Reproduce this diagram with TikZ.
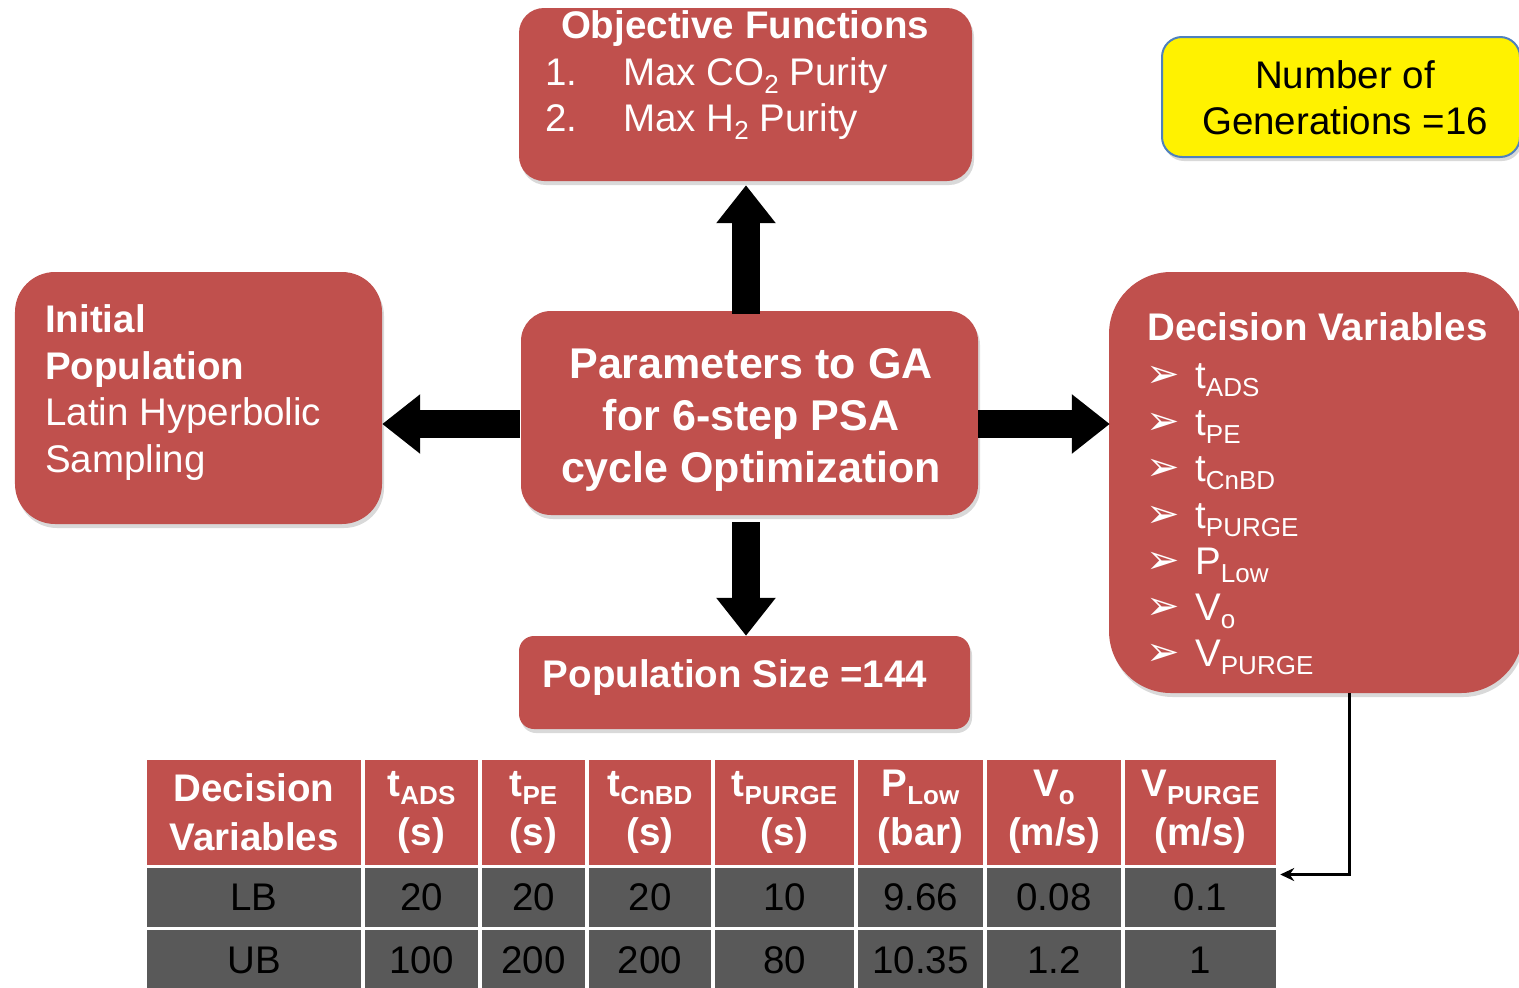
\documentclass[tikz,border=0pt]{standalone}
\usepackage{fontspec}
\setmainfont{Liberation Sans}
\newfontfamily\symfont{DejaVu Sans}
\usetikzlibrary{arrows.meta,shadows,calc}
\definecolor{boxred}{RGB}{192,80,77}
\definecolor{cellgray}{RGB}{89,89,89}
\definecolor{genblue}{RGB}{79,129,189}
\newcommand{\lowtxt}[1]{\raisebox{-8bp}{\fontsize{26bp}{26bp}\selectfont #1}}
\newcommand{\bigfs}{\fontsize{38.5bp}{46bp}\selectfont}
\newcommand{\hdfs}{\fontsize{38.5bp}{49bp}\selectfont}
\newcommand{\cenfs}{\fontsize{43bp}{52bp}\selectfont}
\begin{document}
\begin{tikzpicture}[x=1bp,y=-1bp,
  rbox/.style={fill=boxred, draw=none, inner sep=0pt,
    drop shadow={opacity=0.3, shadow xshift=2bp, shadow yshift=-4bp}},
  wtxt/.style={text=white, font=\bigfs, inner sep=0pt},
  btxt/.style={text=black, font=\bigfs, inner sep=0pt},
  bigarrow/.style={line width=28bp, -{Triangle[width=57bp,length=38bp]}},
  bul/.style={text=white, font=\symfont\fontsize{40bp}{40bp}\selectfont, inner sep=0pt, anchor=base west},
  hcell/.style={fill=boxred, draw=white, line width=3bp, inner sep=0pt, text=white,
    font=\bfseries\hdfs, align=center},
  dcell/.style={fill=cellgray, draw=white, line width=3bp, inner sep=0pt, text=black,
    font=\bigfs, align=center}]
\useasboundingbox (0,0) rectangle (1519,987);
\clip (0,0) rectangle (1519,987);

% boxes
\node[rbox, rounded corners=25bp, minimum width=453bp, minimum height=173bp] (obj) at (745.5,94.5) {};
\node[rbox, rounded corners=40bp, minimum width=367bp, minimum height=252bp] (init) at (198.5,398) {};
\node[rbox, rounded corners=30bp, minimum width=457bp, minimum height=204bp] (cen) at (749.5,413) {};
\node[rbox, rounded corners=62bp, minimum width=414bp, minimum height=421bp] (dv) at (1316,482.5) {};
\node[rbox, rounded corners=15bp, minimum width=451bp, minimum height=93bp] (pop) at (744.5,682.5) {};
\node[fill=yellow, draw=genblue, line width=2bp, rounded corners=20bp, inner sep=0pt,
  minimum width=358bp, minimum height=120bp,
  drop shadow={opacity=0.3, shadow xshift=2bp, shadow yshift=-4bp}] (gen) at (1341,97) {};

% objective text
\node[wtxt, font=\bfseries\bigfs, anchor=base] (objt) at (745,38) {Objective Functions};
\node[wtxt, anchor=base west] (o1n) at (545,85) {1.};
\node[wtxt, anchor=base west] (o1t) at (623,85) {Max CO\lowtxt{2} Purity};
\node[wtxt, anchor=base west] (o2n) at (545,131) {2.};
\node[wtxt, anchor=base west] (o2t) at (623,131) {Max H\lowtxt{2} Purity};

% generations
\node[btxt, anchor=base] (g1) at (1345,88) {Number of};
\node[btxt, anchor=base] (g2) at (1345,134) {Generations =16};

% initial population
\node[wtxt, font=\bfseries\bigfs, anchor=base west] (i1) at (45,332) {Initial};
\node[wtxt, font=\bfseries\bigfs, anchor=base west] (i2) at (45,379) {Population};
\node[wtxt, anchor=base west] (i3) at (45,425) {Latin Hyperbolic};
\node[wtxt, anchor=base west] (i4) at (45,472) {Sampling};

% center
\node[wtxt, font=\bfseries\cenfs, anchor=base] (c1) at (751,378) {Parameters to GA};
\node[wtxt, font=\bfseries\cenfs, anchor=base] (c2) at (751,430) {for 6-step PSA};
\node[wtxt, font=\bfseries\cenfs, anchor=base] (c3) at (751,482) {cycle Optimization};

% population size
\node[wtxt, font=\bfseries\bigfs, anchor=base] (p1) at (735,687) {Population Size =144};

% decision variables list
\node[wtxt, font=\bfseries\bigfs, anchor=base west] (d0) at (1147,340) {Decision Variables};
\foreach \y/\t [count=\i] in {388/t\lowtxt{ADS}, 435/t\lowtxt{PE}, 481/t\lowtxt{CnBD},
  528/t\lowtxt{PURGE}, 574/P\lowtxt{Low}, 620/V\lowtxt{o}, 666/V\lowtxt{PURGE}} {
  \node[bul] (b\i) at (1146,\y-1) {➢};
  \node[wtxt, anchor=base west] (d\i) at (1195,\y) {\t};
}

% block arrows
\draw[bigarrow, shorten <=-3bp, shorten >=4bp] (cen.north -| 746,0) -- (obj.south -| 746,0);
\draw[bigarrow] ($(cen.south -| 746,0)+(0,7)$) -- (pop.north -| 746,0);
\coordinate (ay) at (0,424);
\draw[bigarrow, shorten <=1bp] (cen.west |- ay) -- (init.east |- ay);
\draw[bigarrow, shorten >=-1bp] (cen.east |- ay) -- (dv.west |- ay);

% table
\foreach \xa/\xb/\t [count=\i] in {145/363/{Decision\\Variables}, 363/480/{t\lowtxt{ADS}\\(s)},
  480/587/{t\lowtxt{PE}\\(s)}, 587/713/{t\lowtxt{CnBD}\\(s)}, 713/856/{t\lowtxt{PURGE}\\(s)},
  856/985/{P\lowtxt{Low}\\(bar)}, 985/1123/{V\lowtxt{o}\\(m/s)}, 1123/1278/{V\lowtxt{PURGE}\\(m/s)}} {
  \node[hcell, minimum width=\xb-\xa, minimum height=108bp] (h\i) at ({(\xa+\xb)/2},812) {\t};
}
\foreach \xa/\xb/\a/\b [count=\i] in {145/363/LB/UB, 363/480/20/100, 480/587/20/200,
  587/713/20/200, 713/856/10/80, 856/985/9.66/10.35, 985/1123/0.08/1.2, 1123/1278/0.1/1} {
  \node[dcell, minimum width=\xb-\xa, minimum height=62bp] (lb\i) at ({(\xa+\xb)/2},897) {\a};
  \node[dcell, minimum width=\xb-\xa, minimum height=64bp] (ub\i) at ({(\xa+\xb)/2},960) {\b};
}

% connector
\coordinate (dvout) at ($(dv.south)+(33,0)$);
\draw[line width=3bp, -{Stealth[length=14bp,width=13bp]}] (dvout) |- ($(lb8.north east)+(1,10)$);
\end{tikzpicture}
\end{document}
